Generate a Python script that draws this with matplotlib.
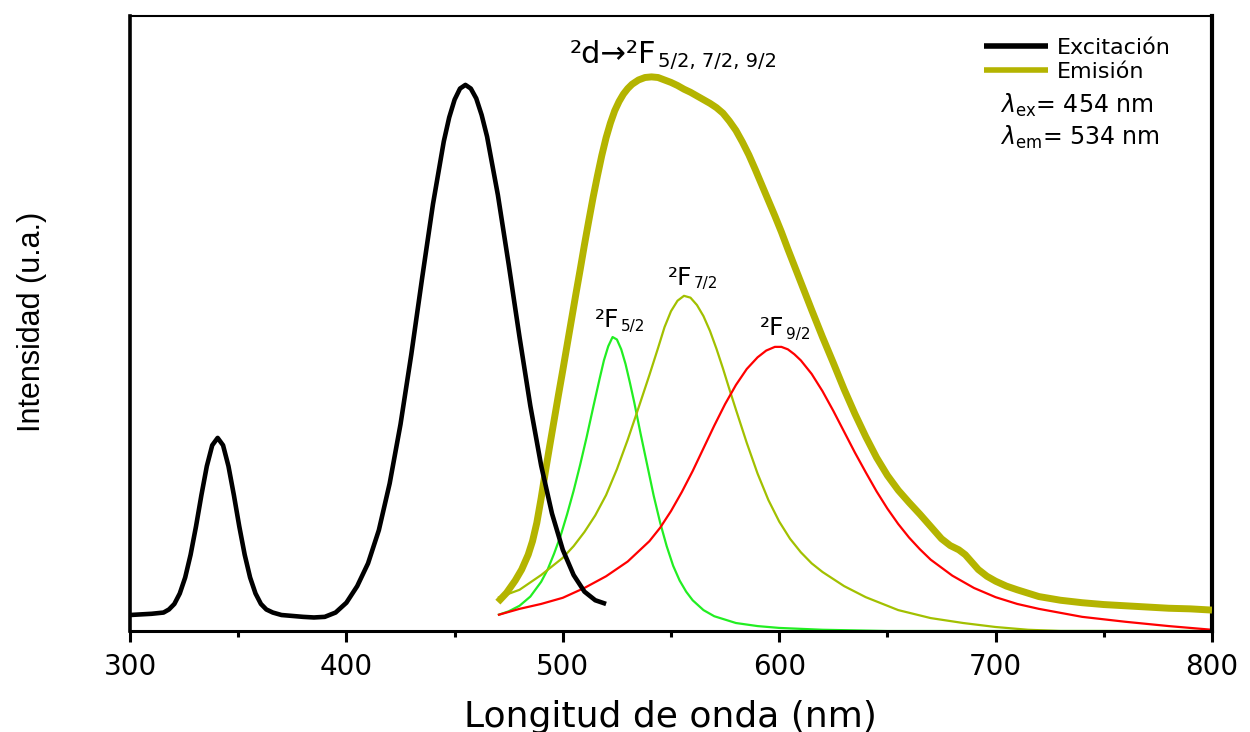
import matplotlib
matplotlib.use("Agg")
import matplotlib.pyplot as plt
from matplotlib import font_manager as fm
from matplotlib.ticker import MultipleLocator

# ---------------- data ----------------
exc_nm = [300, 310, 315.5, 318, 320.5, 323, 325.5, 328, 330.5, 333, 335.5, 338, 340.5, 343,
          345.5, 348, 350.5, 353, 355.5, 358, 360.5, 363, 366, 370, 380, 385, 390, 395, 400, 405,
          410, 415, 420, 425, 430, 435, 440, 445, 447.5, 450, 452.5, 455, 457.5, 460, 462.5,
          465, 470, 475, 480, 485, 490, 495, 500, 505, 510, 515, 520]
exc_int = [2.6, 2.8, 3.0, 3.5, 4.4, 6.1, 8.7, 12.4, 17.0, 22.1, 26.8, 30.2, 31.4, 30.2,
           26.8, 22.1, 17.0, 12.4, 8.7, 6.1, 4.4, 3.5, 3.0, 2.6, 2.3, 2.2, 2.3, 3.0, 4.6, 7.3,
           11.0, 16.4, 24.0, 33.6, 45.0, 57.4, 69.4, 79.6, 83.5, 86.4, 88.2, 88.8, 88.2, 86.6, 83.9,
           80.4, 70.9, 59.6, 47.8, 36.6, 26.9, 19.1, 13.2, 9.1, 6.4, 5.0, 4.4]

em_nm = [470, 474, 478, 481, 484, 486, 488, 490, 492, 494, 496, 498, 500, 502, 504, 506, 508,
         510, 512, 514, 516, 518, 520, 522, 524, 526, 528, 530, 532, 535, 538, 541, 544, 547,
         550, 553, 556, 559, 562, 565, 568, 571, 574, 577, 580, 583, 586, 589, 592, 595, 598,
         601, 604, 607, 610, 615, 620, 625, 630, 635, 640, 645, 650, 655, 660, 665, 670, 675,
         679, 683, 686, 689, 692, 696, 700, 705, 710, 720, 730, 740, 750, 760, 770, 780, 790, 800]
em_int = [4.7, 6.2, 8.2, 10.0, 12.4, 14.6, 17.6, 21.6, 26.0, 30.2, 34.3, 38.4, 42.4, 46.5,
          50.6, 54.7, 58.7, 62.8, 66.7, 70.5, 74.0, 77.3, 80.2, 82.6, 84.6, 86.1, 87.3, 88.2,
          88.9, 89.6, 90.0, 90.1, 90.0, 89.6, 89.2, 88.7, 88.1, 87.6, 87.0, 86.4, 85.8, 85.1,
          84.2, 82.9, 81.4, 79.5, 77.4, 75.0, 72.5, 70.0, 67.5, 64.9, 62.1, 59.4, 56.7, 52.2,
          47.8, 43.6, 39.3, 35.3, 31.6, 28.2, 25.3, 22.9, 20.9, 19.0, 17.0, 15.0, 13.9, 13.2,
          12.4, 11.2, 10.0, 8.9, 8.1, 7.3, 6.7, 5.6, 5.0, 4.6, 4.3, 4.1, 3.9, 3.7, 3.6, 3.4]

f52_nm = [470, 475, 480, 485, 490, 493, 496, 499, 502, 505, 508, 511, 514, 517, 519, 521, 523,
          525, 527, 529, 531, 533, 536, 539, 542, 545, 548, 551, 554, 557, 560, 565, 570, 580,
          590, 600, 620, 650, 800]
f52_int = [2.6, 3.2, 4.1, 5.6, 8.0, 10.0, 12.6, 15.5, 19.0, 22.8, 27.0, 31.5, 36.3, 41.0, 44.0,
           46.3, 47.8, 47.4, 45.8, 43.4, 40.4, 37.2, 32.0, 27.0, 22.0, 17.6, 13.8, 10.6, 8.2,
           6.4, 5.0, 3.4, 2.4, 1.3, 0.8, 0.5, 0.2, 0.0, 0.0]

f72_nm = [470, 480, 490, 500, 505, 510, 515, 520, 525, 530, 535, 540, 544, 547, 550, 553, 556,
          559, 562, 565, 568, 571, 574, 577, 580, 585, 590, 595, 600, 605, 610, 615, 620, 630,
          640, 655, 670, 685, 700, 715, 730, 800]
f72_int = [5.4, 6.7, 9.1, 11.9, 13.8, 16.1, 18.8, 22.1, 26.3, 31.1, 36.3, 41.6, 46.0, 49.4,
           52.0, 53.7, 54.5, 54.2, 53.0, 51.2, 48.8, 45.9, 42.7, 39.3, 36.0, 30.6, 25.6, 21.3,
           17.8, 15.0, 12.8, 11.0, 9.6, 7.3, 5.5, 3.4, 2.1, 1.3, 0.65, 0.2, 0.0, 0.0]

f92_nm = [470, 480, 490, 500, 510, 520, 530, 540, 545, 550, 555, 560, 565, 570, 575, 580, 585,
          590, 594, 598, 601, 604, 607, 610, 615, 620, 625, 630, 635, 640, 645, 650, 655, 660,
          665, 670, 680, 690, 700, 710, 720, 740, 760, 780, 800]
f92_int = [2.6, 3.6, 4.4, 5.4, 7.0, 8.9, 11.3, 14.6, 16.8, 19.5, 22.6, 26.0, 29.7, 33.4, 36.9,
           40.0, 42.6, 44.5, 45.6, 46.2, 46.2, 45.8, 45.0, 44.0, 41.8, 39.0, 35.8, 32.4, 29.0,
           25.8, 22.7, 19.9, 17.4, 15.2, 13.3, 11.6, 9.0, 7.0, 5.5, 4.4, 3.6, 2.3, 1.5, 0.8, 0.2]

x_ticks = [300, 400, 500, 600, 700, 800]
legend_labels = ["Excitación", "Emisión"]

# ---------------- style ----------------
C_EXC = "#000000"
C_EM = "#b4b400"
C_52 = "#22ee22"
C_72 = "#a2c000"
C_92 = "#ff0000"

names = {f.name for f in fm.fontManager.ttflist}
narrow = "Liberation Sans Narrow" in names

plt.rcParams["font.family"] = ["DejaVu Sans"]
plt.rcParams["mathtext.fontset"] = "dejavusans"

fig = plt.figure(figsize=(12.5, 7.32), dpi=100)
ax = fig.add_axes([130 / 1250, 101 / 732, 1082 / 1250, 615 / 732])

kw = dict(solid_joinstyle="round", solid_capstyle="butt")
ax.plot(f52_nm, f52_int, color=C_52, lw=1.6, zorder=2, **kw)
ax.plot(f72_nm, f72_int, color=C_72, lw=1.6, zorder=2, **kw)
ax.plot(f92_nm, f92_int, color=C_92, lw=1.6, zorder=2, **kw)
l_em, = ax.plot(em_nm, em_int, color=C_EM, lw=5.0, zorder=3, **kw)
l_exc, = ax.plot(exc_nm, exc_int, color=C_EXC, lw=3.3, zorder=4, **kw)

ax.set_xlim(300, 800)
ax.set_ylim(0, 100)
ax.set_xticks(x_ticks)
ax.xaxis.set_minor_locator(MultipleLocator(50))
ax.set_yticks([])
ax.tick_params(axis="x", which="major", direction="out", length=8, width=2.2,
               labelsize=20, pad=8, top=False)
ax.tick_params(axis="x", which="minor", direction="out", length=4, width=2.2, top=False)

ax.spines["left"].set_linewidth(2.6)
ax.spines["bottom"].set_linewidth(2.2)
ax.spines["top"].set_linewidth(1.5)
ax.spines["right"].set_linewidth(3.0)

fig.text(670 / 1250, 1 - 717 / 732, "Longitud de onda (nm)", ha="center", va="center",
         fontsize=26)
if narrow:
    fig.text(32 / 1250, 1 - 322 / 732, "Intensidad (u.a.)", rotation=90, ha="center",
             va="center", fontsize=27, family=["Liberation Sans Narrow", "DejaVu Sans"])
else:
    fig.text(32 / 1250, 1 - 322 / 732, "Intensidad (u.a.)", rotation=90, ha="center",
             va="center", fontsize=22, family=["Liberation Sans", "DejaVu Sans"])

leg = ax.legend([l_exc, l_em], legend_labels, loc="upper left",
                bbox_to_anchor=(0.789, 0.965), frameon=False, fontsize=16,
                handlelength=2.9, handletextpad=0.4, labelspacing=0.2,
                borderpad=0, borderaxespad=0)
for h in leg.legend_handles:
    h.set_linewidth(4)

ax.text(702, 84.2, r"$\lambda_{\mathrm{ex}}$= 454 nm", fontsize=17, va="baseline")
ax.text(702, 79.0, r"$\lambda_{\mathrm{em}}$= 534 nm", fontsize=17, va="baseline")


def label_with_sub(x, y, main, sub, size, subsize):
    t = ax.text(x, y, main, fontsize=size, va="baseline", ha="left")
    ax.annotate(sub, xy=(1, 0), xycoords=t, xytext=(1, 1), textcoords="offset points",
                fontsize=subsize, va="baseline", ha="left")
    return t


label_with_sub(503.3, 92.4, "²d→²F", "5/2, 7/2, 9/2", 22, 14)
label_with_sub(514.9, 49.4, "²F", "5/2", 18, 11)
label_with_sub(548.6, 56.3, "²F", "7/2", 18, 11)
label_with_sub(591.1, 48.1, "²F", "9/2", 18, 11)

fig.savefig("out.png", dpi=100)
